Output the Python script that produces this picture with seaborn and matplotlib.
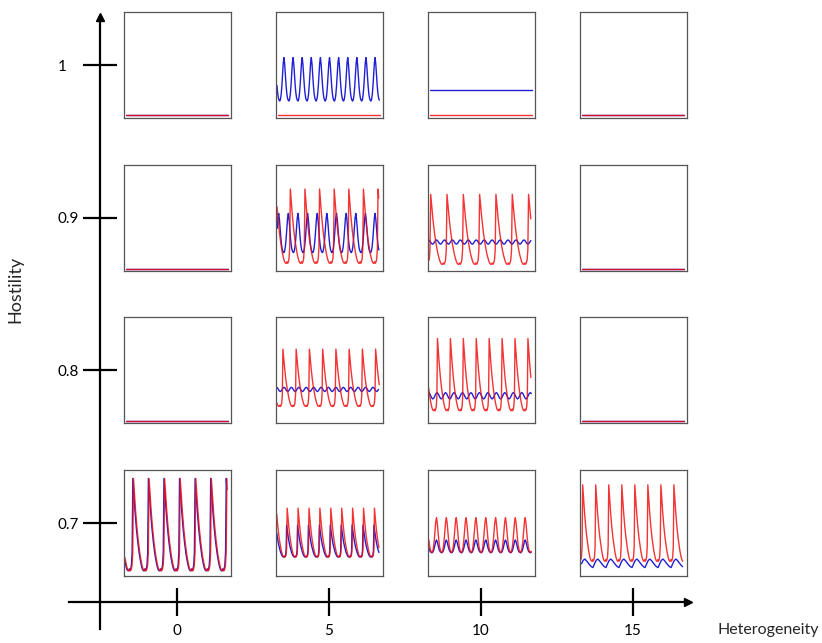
import numpy as np
import pandas as pd
import matplotlib
matplotlib.use("Agg")
import matplotlib.pyplot as plt
import seaborn as sns

# ---------------- data ----------------
HETEROGENEITY = [0, 5, 10, 15]
HOSTILITY = [1.0, 0.9, 0.8, 0.7]
X_TICK_LABELS = ["0", "5", "10", "15"]
Y_TICK_LABELS = ["1", "0.9", "0.8", "0.7"]

# one-cycle waveform shapes (normalised 0..1)
SPIKE = [0.02, 0.0, 0.02, 0.06, 0.2, 1.0, 0.88, 0.76, 0.65, 0.55, 0.46, 0.38, 0.31,
         0.25, 0.19, 0.14, 0.10, 0.06, 0.03, 0.01, 0.0, 0.0]
PULSE = [0.0, 0.04, 0.15, 0.35, 0.62, 0.88, 1.0, 0.85, 0.6, 0.36, 0.18, 0.07, 0.02]
WAVE = [0.5, 0.85, 1.0, 0.85, 0.5, 0.15, 0.0, 0.15]
SAW = [0.0, 0.45, 0.85, 1.0, 0.8, 0.55, 0.3, 0.1]
SHAPES = {"spike": SPIKE, "pulse": PULSE, "wave": WAVE, "saw": SAW}

# rows: hostility 1, 0.9, 0.8, 0.7 ; cols: heterogeneity 0, 5, 10, 15
RED_SHAPE = [["flat", "flat", "flat", "flat"],
             ["flat", "spike", "spike", "flat"],
             ["flat", "spike", "spike", "flat"],
             ["spike", "spike", "pulse", "spike"]]
RED_LOW = [[0.03, 0.03, 0.03, 0.03],
           [0.02, 0.07, 0.06, 0.02],
           [0.02, 0.16, 0.12, 0.02],
           [0.05, 0.18, 0.22, 0.14]]
RED_HIGH = [[0.03, 0.03, 0.03, 0.03],
            [0.02, 0.77, 0.72, 0.02],
            [0.02, 0.70, 0.80, 0.02],
            [0.92, 0.64, 0.55, 0.86]]
RED_PEAK0 = [[0, 0, 0, 0],
             [0, 0.13, 0.02, 0],
             [0, 0.06, 0.084, 0],
             [0.084, 0.10, 0.075, 0.02]]
RED_PERIOD = [[0, 0, 0, 0],
              [0, 0.138, 0.154, 0],
              [0, 0.125, 0.122, 0],
              [0.147, 0.103, 0.093, 0.123]]

BLUE_SHAPE = [["flat", "pulse", "flat", "flat"],
              ["flat", "pulse", "wave", "flat"],
              ["flat", "wave", "wave", "flat"],
              ["spike", "spike", "pulse", "saw"]]
BLUE_LOW = [[0.03, 0.16, 0.26, 0.03],
            [0.02, 0.17, 0.25, 0.02],
            [0.02, 0.30, 0.23, 0.02],
            [0.05, 0.18, 0.22, 0.08]]
BLUE_HIGH = [[0.03, 0.57, 0.26, 0.03],
             [0.02, 0.54, 0.29, 0.02],
             [0.02, 0.34, 0.29, 0.02],
             [0.92, 0.48, 0.34, 0.16]]
BLUE_PEAK0 = [[0, 0.07, 0, 0],
              [0, 0.02, 0.0, 0],
              [0, 0.0, 0.0, 0],
              [0.078, 0.095, 0.075, 0.04]]
BLUE_PERIOD = [[0, 0.086, 0, 0],
               [0, 0.091, 0.075, 0],
               [0, 0.07, 0.08, 0],
               [0.147, 0.103, 0.093, 0.123]]

RED = "#f01010"
BLUE = "#1f1fd6"


def series_points(shape, low, high, peak0, period):
    if shape == "flat":
        return np.array([0.01, 0.98]), np.array([low, low])
    tmpl = np.asarray(SHAPES[shape])
    n = len(tmpl)
    pk = int(np.argmax(tmpl))
    ncyc = int(np.ceil(1.0 / period)) + 3
    vals = np.tile(tmpl, ncyc)
    k = np.arange(len(vals))
    x = peak0 + (k - (pk + n)) / n * period
    keep = (x >= 0) & (x <= 0.97)
    return x[keep], low + (high - low) * vals[keep]


rows = []
for i, host in enumerate(HOSTILITY):
    for j, het in enumerate(HETEROGENEITY):
        for name, sh, lo, hi, p0, per in (
            ("blue", BLUE_SHAPE, BLUE_LOW, BLUE_HIGH, BLUE_PEAK0, BLUE_PERIOD),
            ("red", RED_SHAPE, RED_LOW, RED_HIGH, RED_PEAK0, RED_PERIOD),
        ):
            xs, ys = series_points(sh[i][j], lo[i][j], hi[i][j], p0[i][j], per[i][j])
            for xv, yv in zip(xs, ys):
                rows.append({"host": host, "het": het, "series": name, "t": xv, "v": yv})
df = pd.DataFrame(rows)

# ---------------- figure ----------------
sns.set_style("white")
plt.rcParams["font.family"] = ["Lato", "DejaVu Sans"]

fig = plt.figure(figsize=(8.22, 6.43), dpi=100)
W, H = 822.0, 643.0
ax = fig.add_axes([69 / W, (H - 629) / H, (688 - 69) / W, (629 - 16.5) / H])
ax.set_xlim(-3.5526, 16.809)
ax.set_ylim(0.63057, 1.03177)
ax.patch.set_alpha(0)
for s in ("top", "right"):
    ax.spines[s].set_visible(False)
ax.spines["left"].set_position(("data", -2.533))
ax.spines["bottom"].set_position(("data", 0.6483))
for s in ("left", "bottom"):
    ax.spines[s].set_linewidth(1.6)
    ax.spines[s].set_color("black")
ax.set_xticks(HETEROGENEITY, X_TICK_LABELS)
ax.set_yticks(HOSTILITY, Y_TICK_LABELS)
ax.tick_params(axis="x", bottom=True, direction="inout", length=20, width=1.6, pad=6,
               labelsize=11, colors="black")
ax.tick_params(axis="y", left=True, direction="inout", length=24.5, width=1.6, pad=18,
               labelsize=11, colors="black")
for lab in ax.get_yticklabels():
    lab.set_horizontalalignment("left")
# arrow heads
ax.plot([-2.533], [1.03177], marker="^", ms=6, color="black", clip_on=False)
ax.plot([16.809], [0.6483], marker=">", ms=6, color="black", clip_on=False)

fig.text(819 / W, 1 - 630 / H, "Heterogeneity", ha="right", va="center", fontsize=11.5)
fig.text(15 / W, 1 - 289 / H, "Hostility", ha="center", va="center", rotation=90, fontsize=13)

# ---------------- small panels ----------------
pw, ph = 107 / W, 106 / H
inv = fig.transFigure.inverted()
for host in HOSTILITY:
    for het in HETEROGENEITY:
        cx, cy = inv.transform(ax.transData.transform((het, host)))
        sub = fig.add_axes([cx - pw / 2, cy - ph / 2, pw, ph])
        d = df[(df.host == host) & (df.het == het)]
        sns.lineplot(data=d, x="t", y="v", hue="series", hue_order=["blue", "red"],
                     palette={"blue": BLUE, "red": RED}, estimator=None, sort=False,
                     legend=False, linewidth=1.0, ax=sub)
        for line in sub.lines:
            if matplotlib.colors.to_hex(line.get_color()) == RED:
                line.set_alpha(0.85)
        sub.set_xlim(-0.01, 1.0)
        sub.set_ylim(0, 1)
        sub.set_xticks([])
        sub.set_yticks([])
        sub.set_xlabel("")
        sub.set_ylabel("")
        for s in sub.spines.values():
            s.set_visible(True)
            s.set_color("#555555")
            s.set_linewidth(0.9)

fig.savefig("out.png", dpi=100)
